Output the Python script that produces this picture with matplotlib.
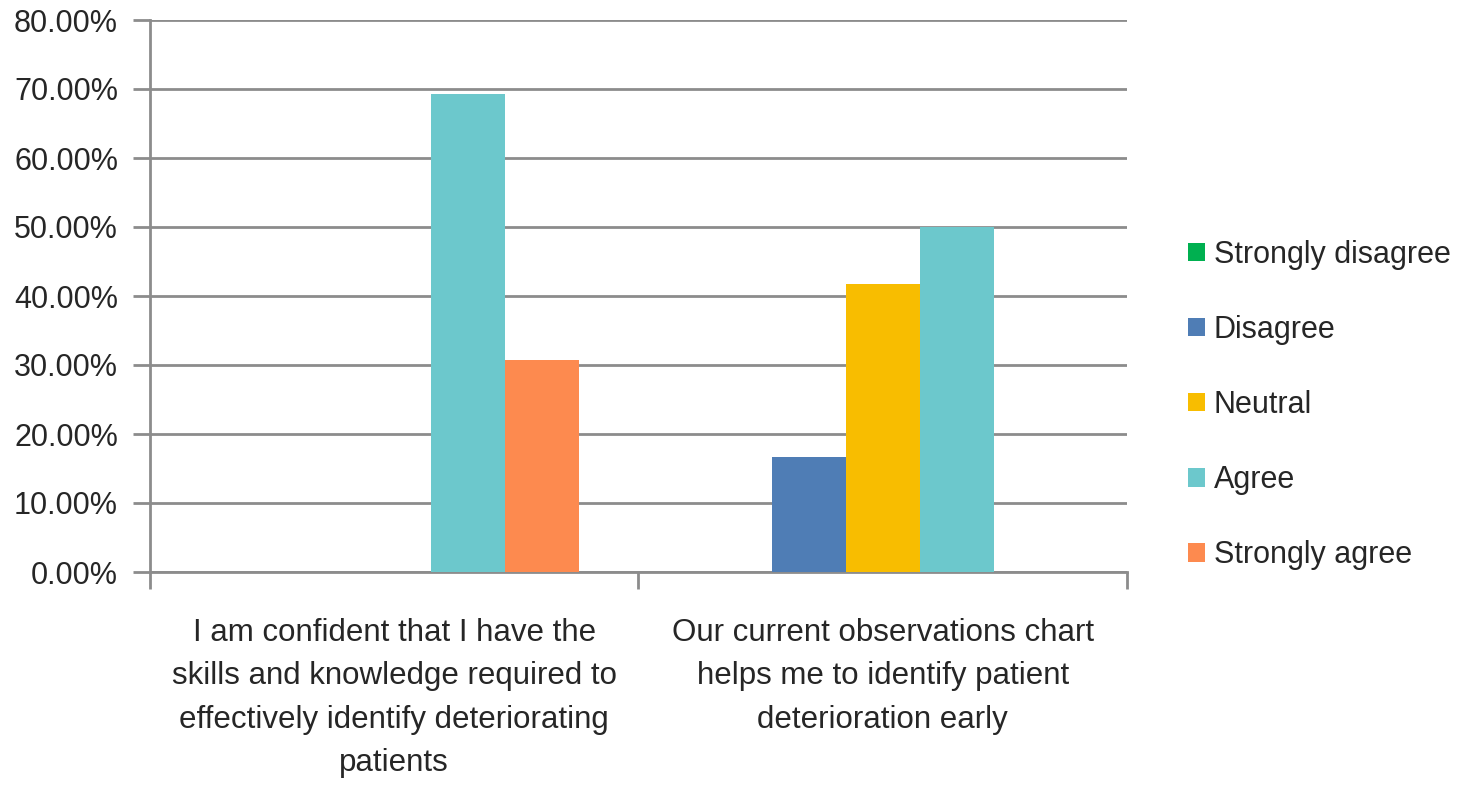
import matplotlib
matplotlib.use("Agg")
from matplotlib import pyplot as plt
from matplotlib.ticker import FuncFormatter
import numpy as np

categories = ["I am confident that I have the\nskills and knowledge required to\neffectively identify deteriorating\npatients",
              "Our current observations chart\nhelps me to identify patient\ndeterioration early"]
responses = ["Strongly disagree", "Disagree", "Neutral", "Agree", "Strongly agree"]
strongly_disagree = [0.0, 0.0]
disagree = [0.0, 16.67]
neutral = [0.0, 41.67]
agree = [69.23, 50.0]
strongly_agree = [30.77, 0.0]
colors = ["#00b050", "#4f7db5", "#f8bd00", "#6cc8cc", "#fd8a4f"]

plt.rcParams['font.family'] = ['Liberation Sans', 'DejaVu Sans']
txt = "#262626"
grid_c = "#8c8c8c"

fig = plt.figure(figsize=(14.63, 7.97), dpi=100)
ax = fig.add_axes([150/1463, 1 - 572/797, (1127-150)/1463, (572-20)/797])

series = [strongly_disagree, disagree, neutral, agree, strongly_agree]
x = np.arange(len(categories))
w = 74/488
for i, vals in enumerate(series):
    ax.bar(x + (i - 2)*w, vals, w, color=colors[i], label=responses[i], zorder=3)

ax.set_xlim(-0.5, 1.5)
ax.set_ylim(0, 80)
ax.set_yticks(np.arange(0, 81, 10))
ax.yaxis.set_major_formatter(FuncFormatter(lambda v, p: "%.2f%%" % v))
ax.yaxis.grid(True, color=grid_c, linewidth=2, zorder=0)
ax.tick_params(axis='y', length=12, width=2, color=grid_c, labelsize=22, labelcolor=txt, pad=11)

ax.set_xticks([-0.5, 0.5, 1.5])
ax.set_xticklabels([])
ax.set_xticks(x, minor=True)
ax.set_xticklabels(categories, minor=True, fontsize=22.5, color=txt, linespacing=1.58)
ax.tick_params(axis='x', which='major', length=12, width=2, color=grid_c)
ax.tick_params(axis='x', which='minor', length=0, pad=33)

for s in ['top', 'right']:
    ax.spines[s].set_visible(False)
for s in ['left', 'bottom']:
    ax.spines[s].set_color(grid_c)
    ax.spines[s].set_linewidth(2)

leg = fig.legend(loc='center left', bbox_to_anchor=(1188/1463, 1 - 405/797), frameon=False,
                 fontsize=22, labelspacing=1.48, handlelength=0.55, handleheight=0.55,
                 handletextpad=0.3, borderpad=0, borderaxespad=0)
for t in leg.get_texts():
    t.set_color(txt)

fig.savefig("out.png", dpi=100, facecolor="white")
